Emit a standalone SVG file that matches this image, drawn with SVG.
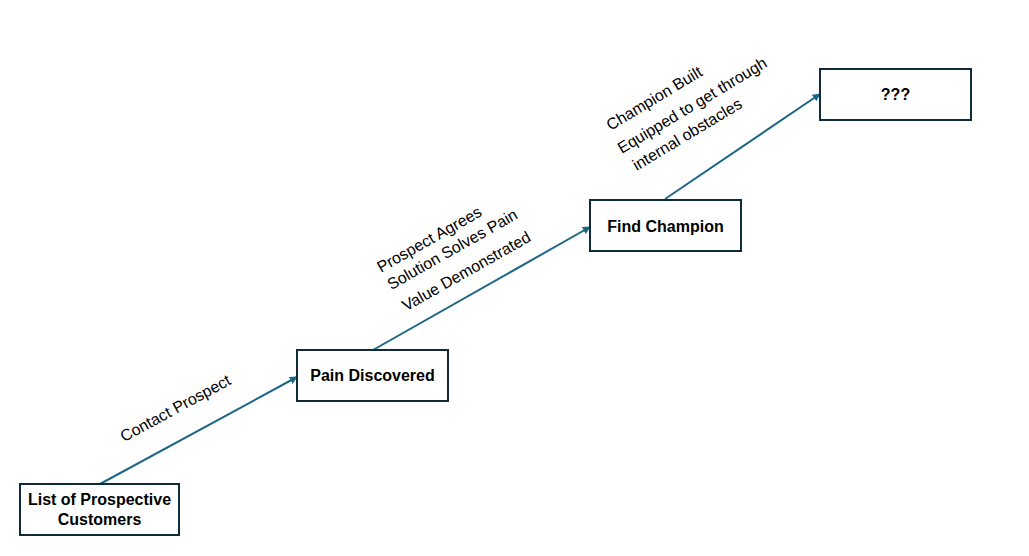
<svg xmlns="http://www.w3.org/2000/svg" width="1029" height="556" viewBox="0 0 1029 556">
<defs>
<marker id="ah" viewBox="0 0 10 10" refX="9" refY="5" markerWidth="4" markerHeight="4" orient="auto" markerUnits="strokeWidth">
<path d="M0,0 L10,5 L0,10 z" fill="#1d6688"/>
</marker>
<style>
.box{fill:#fff;stroke:#0f2a3a;stroke-width:2}
.nt{font-family:"Liberation Sans",Arial,sans-serif;font-weight:bold;font-size:16px;fill:#000;text-anchor:middle}
.lt{font-family:"Liberation Sans",Arial,sans-serif;font-size:16px;fill:#000;text-anchor:middle}
.cn{stroke:#1d6688;stroke-width:2;fill:none;marker-end:url(#ah)}
</style>
</defs>
<rect width="1029" height="556" fill="#fff"/>
<g id="connectors">
<line class="cn" x1="100" y1="484" x2="297" y2="377"/>
<line class="cn" x1="373" y1="350" x2="590" y2="227"/>
<line class="cn" x1="665" y1="199" x2="820" y2="94"/>
</g>
<g id="labels">
<text class="lt" transform="translate(178,413) rotate(-28.5)">Contact Prospect</text>
<text class="lt" transform="translate(432,244) rotate(-29.5)">Prospect Agrees</text>
<text class="lt" transform="translate(455,254) rotate(-29.5)">Solution Solves Pain</text>
<text class="lt" transform="translate(469,276) rotate(-29.5)">Value Demonstrated</text>
<text class="lt" transform="translate(657,103) rotate(-31)">Champion Built</text>
<text class="lt" transform="translate(695,110) rotate(-31)">Equipped to get through</text>
<text class="lt" transform="translate(690,139) rotate(-31)">internal obstacles</text>
</g>
<g id="node-list">
<rect class="box" x="20" y="484" width="159" height="51"/>
<text class="nt" x="99.5" y="505">List of Prospective</text>
<text class="nt" x="99.5" y="525">Customers</text>
</g>
<g id="node-pain">
<rect class="box" x="297" y="350" width="151" height="51"/>
<text class="nt" x="372.5" y="381">Pain Discovered</text>
</g>
<g id="node-champion">
<rect class="box" x="590" y="200" width="151" height="51"/>
<text class="nt" x="665.5" y="232">Find Champion</text>
</g>
<g id="node-unknown">
<rect class="box" x="820" y="69" width="151" height="51"/>
<text class="nt" x="895.5" y="100">???</text>
</g>
</svg>
